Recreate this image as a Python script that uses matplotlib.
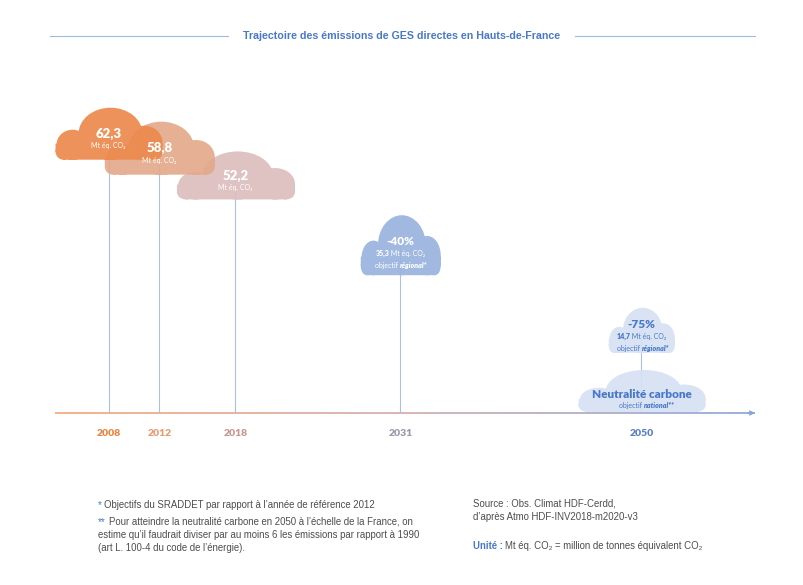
import numpy as np
import matplotlib.pyplot as plt
from matplotlib import font_manager
from matplotlib.path import Path
from matplotlib.patches import PathPatch
from matplotlib.transforms import Affine2D, ScaledTranslation
from matplotlib.collections import LineCollection
from matplotlib.colors import LinearSegmentedColormap

# Data
years = [2008, 2012, 2018, 2031, 2050]
emissions = [62.3, 58.8, 52.2, 35.3, 14.7]          # Mt eq. CO2
reductions = ["", "", "", "-40%", "-75%"]
neutral_year = 2050
neutral_value = 0
title = "Trajectoire des émissions de GES directes en Hauts-de-France"
unit = "Mt éq. CO₂"

# Styles
year_colors = ["#EC8240", "#E89A6E", "#C9968F", "#9F95AB", "#5A80C4"]
cloud_colors = ["#EC8A4E", "#E3AA8C", "#DDBFBE", "#9AB3DE", "#D6E1F3"]
cloud_sizes = [(107, 52), (110, 53), (118, 48), (80, 60), (66, 45)]
neutral_size = (127, 42)
blue = "#4A78C8"
grey = "#4D4D4D"

names = {f.name for f in font_manager.fontManager.ttflist}
narrow = "Liberation Sans Narrow" if "Liberation Sans Narrow" in names else "Liberation Sans"
round_font = ["Lato", "DejaVu Sans"]
body_font = ["Liberation Sans", "DejaVu Sans"]

W, H = 804, 585
fig = plt.figure(figsize=(W / 100, H / 100), dpi=100)
ax = fig.add_axes([55 / W, (H - 413) / H, 700 / W, 353 / H])
ax.set_xlim(2003.78, 2058.95)
ax.set_ylim(-5.33, 80.15)
ax.axis("off")


def ellipse(cx, cy, rx, ry):
    return Path.unit_circle().transformed(Affine2D().scale(rx, ry).translate(cx, cy))


def rect(x0, y0, x1, y1):
    return Path([(x0, y0), (x1, y0), (x1, y1), (x0, y1), (x0, y0)], closed=True)


# cloud outline in pixels, centred on (0, 0), about 107 x 52
CLOUD = Path.make_compound_path(
    ellipse(2, 0, 32, 26),
    ellipse(-36, -11, 16, 15),
    ellipse(36, -9, 18, 17),
    rect(-45, -26, 46, -10),
    rect(-53, -18, 54, -10),
    ellipse(-45, -18, 8, 8),
    ellipse(46, -18, 8, 8),
)


def draw_cloud(x, y, size, color, z):
    w, h = size
    tr = Affine2D().scale(w / 107, h / 52) + ScaledTranslation(x, y, ax.transData)
    ax.add_patch(PathPatch(CLOUD, transform=tr, facecolor=color, edgecolor="none",
                           alpha=0.93, zorder=z, clip_on=False))


def label(x, y, s, dx, dy, size, color, weight="normal", style="normal", ha="center", family=None):
    ax.annotate(s, xy=(x, y), xytext=(dx * 0.72, -dy * 0.72), textcoords="offset points",
                ha=ha, va="center", fontsize=size, color=color, fontweight=weight,
                fontstyle=style, family=family or round_font, zorder=20, annotation_clip=False)


# stems
ax.vlines(years, ax.get_ylim()[0], emissions, color="#A9C1E8", lw=0.8, zorder=1)

# gradient time axis
xs = np.linspace(0, 1, 300)
segs = [[(xs[i], 0), (xs[i + 1], 0)] for i in range(len(xs) - 1)]
cmap = LinearSegmentedColormap.from_list("axis", ["#F2A679", "#D0AAAA", "#86A3D9"])
ax.add_collection(LineCollection(segs, colors=cmap(xs[:-1]), linewidths=1.2,
                                 transform=ax.transAxes, clip_on=False, zorder=2))
ax.annotate("", xy=(1.0, 0), xytext=(0.99, 0), xycoords="axes fraction",
            arrowprops=dict(arrowstyle="->", color="#86A3D9", lw=1.0, mutation_scale=7,
                            shrinkA=0, shrinkB=0))

# year labels
for yr, c in zip(years, year_colors):
    label(yr, ax.get_ylim()[0], str(yr), 0, 21, 7.5, c, weight="heavy")

# clouds
for i, (yr, v) in enumerate(zip(years, emissions)):
    draw_cloud(yr, v, cloud_sizes[i], cloud_colors[i], 10 - i)
    num = f"{v:.1f}".replace(".", ",")
    if reductions[i] == "":
        label(yr, v, num, 0, 0, 9.5, "white", weight="heavy")
        label(yr, v, unit, 0, 12, 5, "white")
    else:
        tc = "white" if i == 3 else blue
        dy0 = -3.5 if i == 3 else -5.5
        label(yr, v, reductions[i], 0, dy0, 8.5, tc, weight="heavy")
        label(yr, v, num, -11, dy0 + 12, 5, tc, weight="heavy", ha="right")
        label(yr, v, " " + unit, -11, dy0 + 12, 5, tc, ha="left")
        label(yr, v, "objectif ", 0, dy0 + 24, 5, tc, ha="right")
        label(yr, v, "régional*", 0, dy0 + 24, 5, tc, weight="heavy", style="italic", ha="left")

draw_cloud(neutral_year, neutral_value, neutral_size, cloud_colors[4], 4)
label(neutral_year, neutral_value, "Neutralité carbone", 0, 4, 8.5, blue, weight="heavy")
label(neutral_year, neutral_value, "objectif ", 2, 15, 5, blue, ha="right")
label(neutral_year, neutral_value, "national**", 2, 15, 5, blue, weight="heavy",
      style="italic", ha="left")

# title with side rules
ty = 1 - 36 / H
fig.text(402 / W, ty, title, ha="center", va="center", fontsize=7.7, fontweight="bold",
         color=blue, family=[narrow, "DejaVu Sans"])
for x0, x1 in [(50, 228), (575, 755)]:
    fig.add_artist(plt.Line2D([x0 / W, x1 / W], [ty, ty], color="#9DB9E4", lw=0.8))


def ftext(x, y, s, **kw):
    kw.setdefault("color", grey)
    kw.setdefault("family", body_font)
    fig.text(x / W, 1 - y / H, s, va="center", fontsize=6.9, **kw)


ftext(98, 505, "*", color=blue)
ftext(104, 505, "Objectifs du SRADDET par rapport à l’année de référence 2012")
ftext(98, 522, "**", color=blue)
ftext(109, 522, "Pour atteindre la neutralité carbone en 2050 à l’échelle de la France, on")
ftext(98, 535, "estime qu’il faudrait diviser par au moins 6 les émissions par rapport à 1990")
ftext(98, 548, "(art L. 100-4 du code de l’énergie).")

ftext(473, 504, "Source : Obs. Climat HDF-Cerdd,")
ftext(473, 517, "d’après Atmo HDF-INV2018-m2020-v3")
ftext(473, 546, "Unité :", color=blue, fontweight="bold")
ftext(505, 546, "Mt éq. CO₂ = million de tonnes équivalent CO₂")

fig.savefig("out.png", dpi=100)
